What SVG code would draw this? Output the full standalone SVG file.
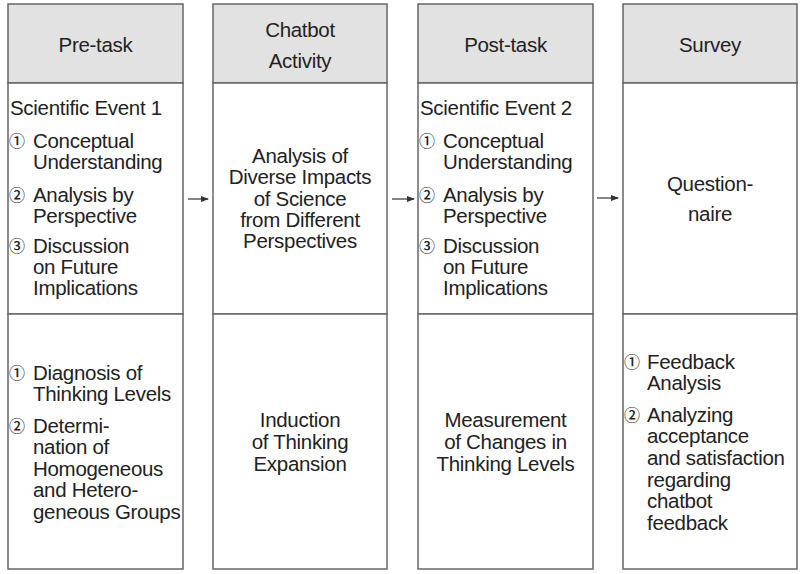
<svg xmlns="http://www.w3.org/2000/svg" width="800" height="574" viewBox="0 0 800 574">
<defs>
<style>
.box{fill:#ffffff;stroke:#666666;stroke-width:1.5}
.hdr{fill:#e2e2e2;stroke:#666666;stroke-width:1.5}
text{font-family:"Liberation Sans","Noto Sans CJK KR",sans-serif;font-size:20.5px;fill:#222222;letter-spacing:-0.3px}
.c{text-anchor:middle}
.n{font-family:"Noto Sans CJK KR","DejaVu Sans",sans-serif;font-size:16px;letter-spacing:0;font-weight:500}
.conn{stroke:#333333;stroke-width:1.2;fill:none}
</style>
<marker id="ah" markerWidth="8" markerHeight="6" refX="7" refY="3" orient="auto" markerUnits="userSpaceOnUse">
<path d="M0,0 L8,3 L0,6 Z" fill="#333333"/>
</marker>
</defs>
<rect width="800" height="574" fill="#ffffff"/>

<g id="pre-task">
<rect class="hdr" x="8" y="4" width="175" height="79"/>
<rect class="box" x="8" y="83" width="175" height="231"/>
<rect class="box" x="8" y="314" width="175" height="255"/>
<text class="c" x="95.5" y="52">Pre-task</text>
<text x="10" y="115">Scientific Event 1</text>
<text y="147.5"><tspan class="n" x="9" dy="-1">①</tspan><tspan x="33" dy="1">Conceptual</tspan><tspan x="33" dy="21">Understanding</tspan></text>
<text y="201.5"><tspan class="n" x="9" dy="-1">②</tspan><tspan x="33" dy="1">Analysis by</tspan><tspan x="33" dy="21">Perspective</tspan></text>
<text y="253"><tspan class="n" x="9" dy="-1">③</tspan><tspan x="33" dy="1">Discussion</tspan><tspan x="33" dy="21">on Future</tspan><tspan x="33" dy="21">Implications</tspan></text>
<text y="380"><tspan class="n" x="9" dy="-1">①</tspan><tspan x="33" dy="1">Diagnosis of</tspan><tspan x="33" dy="21">Thinking Levels</tspan></text>
<text y="433"><tspan class="n" x="9" dy="-1">②</tspan><tspan x="33" dy="1">Determi-</tspan><tspan x="33" dy="21">nation of</tspan><tspan x="33" dy="22">Homogeneous</tspan><tspan x="33" dy="21">and Hetero-</tspan><tspan x="33" dy="22">geneous Groups</tspan></text>
</g>

<g id="chatbot-activity">
<rect class="hdr" x="213" y="4" width="174" height="79"/>
<rect class="box" x="213" y="83" width="174" height="231"/>
<rect class="box" x="213" y="314" width="174" height="255"/>
<text class="c" x="300" y="37">Chatbot</text>
<text class="c" x="300" y="68">Activity</text>
<text class="c" y="163"><tspan x="300">Analysis of</tspan><tspan x="300" dy="21">Diverse Impacts</tspan><tspan x="300" dy="22">of Science</tspan><tspan x="300" dy="21">from Different</tspan><tspan x="300" dy="21">Perspectives</tspan></text>
<text class="c" y="427"><tspan x="300">Induction</tspan><tspan x="300" dy="22">of Thinking</tspan><tspan x="300" dy="22">Expansion</tspan></text>
</g>

<g id="post-task">
<rect class="hdr" x="418" y="4" width="175" height="79"/>
<rect class="box" x="418" y="83" width="175" height="231"/>
<rect class="box" x="418" y="314" width="175" height="255"/>
<text class="c" x="505.5" y="52">Post-task</text>
<text x="420" y="115">Scientific Event 2</text>
<text y="147.5"><tspan class="n" x="419" dy="-1">①</tspan><tspan x="443" dy="1">Conceptual</tspan><tspan x="443" dy="21">Understanding</tspan></text>
<text y="201.5"><tspan class="n" x="419" dy="-1">②</tspan><tspan x="443" dy="1">Analysis by</tspan><tspan x="443" dy="21">Perspective</tspan></text>
<text y="253"><tspan class="n" x="419" dy="-1">③</tspan><tspan x="443" dy="1">Discussion</tspan><tspan x="443" dy="21">on Future</tspan><tspan x="443" dy="21">Implications</tspan></text>
<text class="c" y="427"><tspan x="505.5">Measurement</tspan><tspan x="505.5" dy="22">of Changes in</tspan><tspan x="505.5" dy="22">Thinking Levels</tspan></text>
</g>

<g id="survey">
<rect class="hdr" x="623" y="4" width="174" height="79"/>
<rect class="box" x="623" y="83" width="174" height="231"/>
<rect class="box" x="623" y="314" width="174" height="255"/>
<text class="c" x="710" y="52">Survey</text>
<text class="c" x="710" y="191">Question-</text>
<text class="c" x="710" y="221">naire</text>
<text y="369"><tspan class="n" x="624" dy="-1">①</tspan><tspan x="647" dy="1">Feedback</tspan><tspan x="647" dy="21">Analysis</tspan></text>
<text y="422"><tspan class="n" x="624" dy="-1">②</tspan><tspan x="647" dy="1">Analyzing</tspan><tspan x="647" dy="21">acceptance</tspan><tspan x="647" dy="22">and satisfaction</tspan><tspan x="647" dy="22">regarding</tspan><tspan x="647" dy="21">chatbot</tspan><tspan x="647" dy="22">feedback</tspan></text>
</g>

<g id="connectors">
<line class="conn" x1="188" y1="199" x2="208" y2="199" marker-end="url(#ah)"/>
<line class="conn" x1="392" y1="199" x2="414" y2="199" marker-end="url(#ah)"/>
<line class="conn" x1="597" y1="198" x2="618" y2="198" marker-end="url(#ah)"/>
</g>
</svg>
